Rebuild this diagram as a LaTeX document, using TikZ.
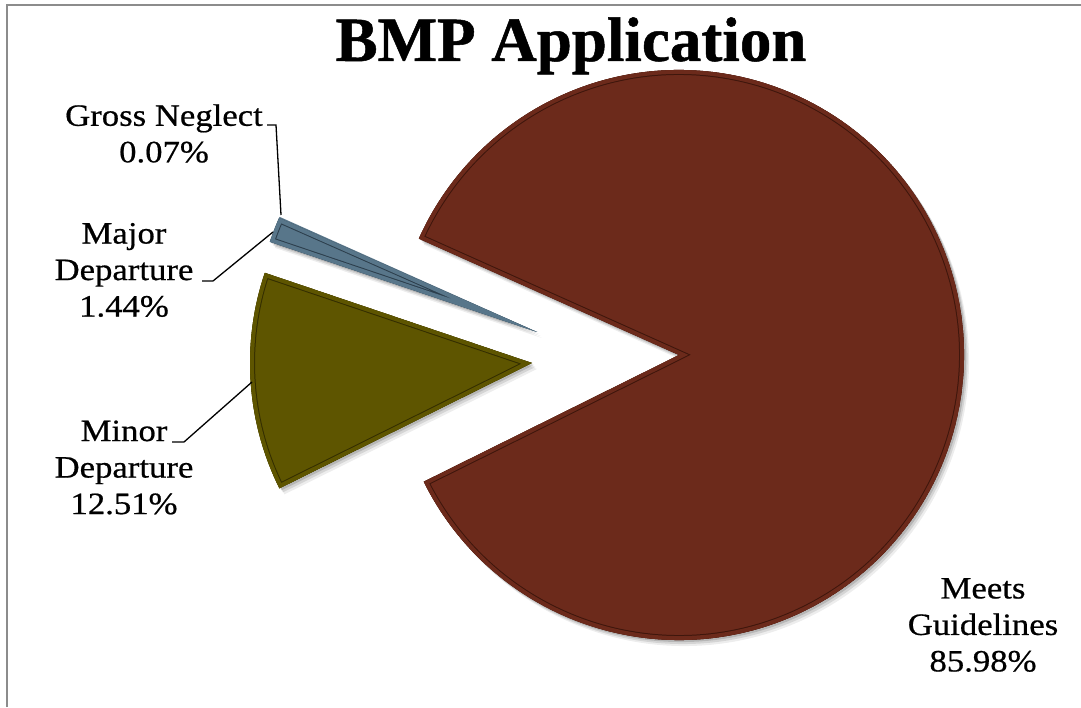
\documentclass[tikz,border=0pt]{standalone}
\usepackage{fontspec}
\setmainfont{Liberation Serif}
\newfontfamily\labelfont[FakeStretch=1.12,FakeBold=0.6]{Liberation Serif}
\newfontfamily\titlefont[FakeBold=0.8]{Liberation Serif Bold}
\definecolor{meets}{RGB}{108,42,27}
\definecolor{meetsdark}{RGB}{62,22,12}
\definecolor{minor}{RGB}{94,85,0}
\definecolor{minordark}{RGB}{52,46,0}
\definecolor{major}{RGB}{88,118,138}
\definecolor{majordark}{RGB}{44,62,76}
\definecolor{frame}{RGB}{140,140,140}
\tikzset{
  lbl/.style={font=\labelfont\fontsize{31}{36.5}\selectfont, align=center, inner sep=0pt},
  leader/.style={draw=black, line width=1.3pt, line join=miter},
  ttl/.style={font=\titlefont\fontsize{63}{70}\selectfont, inner sep=0pt},
}
\newcommand{\sliceshadow}[4]{%
  \foreach \dx/\dy/\op in {2/-2/0.14, 3.5/-4/0.10, 5/-6/0.07}{%
    \fill[black,opacity=\op] ([shift={(\dx,\dy)}]#1) -- ++(#2:#4) arc[start angle=#2,end angle=#3,radius=#4] -- cycle;}%
}
\newcommand{\slicebody}[6]{%
  \begin{scope}
    \clip (#1) -- ++(#2:#4) arc[start angle=#2,end angle=#3,radius=#4] -- cycle;
    \fill[#5] (#1) -- ++(#2:#4) arc[start angle=#2,end angle=#3,radius=#4] -- cycle;
    \draw[#6, line width=10pt, line join=miter] (#1) -- ++(#2:#4) arc[start angle=#2,end angle=#3,radius=#4] -- cycle;
    \draw[#5, line width=8pt, line join=miter] (#1) -- ++(#2:#4) arc[start angle=#2,end angle=#3,radius=#4] -- cycle;
  \end{scope}%
}
\begin{document}
\begin{tikzpicture}[x=1pt,y=1pt]
\useasboundingbox (0,0) rectangle (1081,707);
\fill[white] (0,0) rectangle (1081,707);
% frame
\draw[frame, line width=2pt] (7,0) -- (7,702) -- (1081,702);
% apexes
\coordinate (mA) at (679,352);
\coordinate (nA) at (532,344);
\coordinate (jA) at (537,375);
% shadows
\sliceshadow{mA}{-153.6}{155.9}{285}
\sliceshadow{nA}{161.35}{206.4}{282}
\sliceshadow{jA}{155.9}{161.35}{282}
% slices
\slicebody{mA}{-153.6}{155.9}{285}{meets}{meetsdark}
\slicebody{nA}{161.35}{206.4}{282}{minor}{minordark}
\fill[major] (jA) -- ++(155.9:282) arc[start angle=155.9,end angle=156.15,radius=282] -- cycle;
\slicebody{jA}{156.15}{161.35}{282}{major}{majordark}
% title
\node[ttl, anchor=base] (title) at (571,646) {BMP Application};
% labels
\node[lbl] (gross) at (164,573.5) {Gross Neglect\\0.07\%};
\node[lbl] (majl) at (124,437) {Major\\Departure\\1.44\%};
\node[lbl] (minl) at (124,239.5) {Minor\\Departure\\12.51\%};
\node[lbl] (meetl) at (983,82) {Meets\\Guidelines\\85.98\%};
% leader lines
\coordinate (g1) at (267,582);
\coordinate (g2) at (276,582);
\coordinate (gE) at (281,492);
\coordinate (j1) at (202,426);
\coordinate (j2) at (213,426);
\coordinate (jE) at (273,475);
\coordinate (n1) at (172,265);
\coordinate (n2) at (184,265);
\coordinate (nE) at (252,325);
\draw[leader] (g1) -- (g2) -- (gE);
\draw[leader] (j1) -- (j2) -- (jE);
\draw[leader] (n1) -- (n2) -- (nE);
\end{tikzpicture}
\end{document}
